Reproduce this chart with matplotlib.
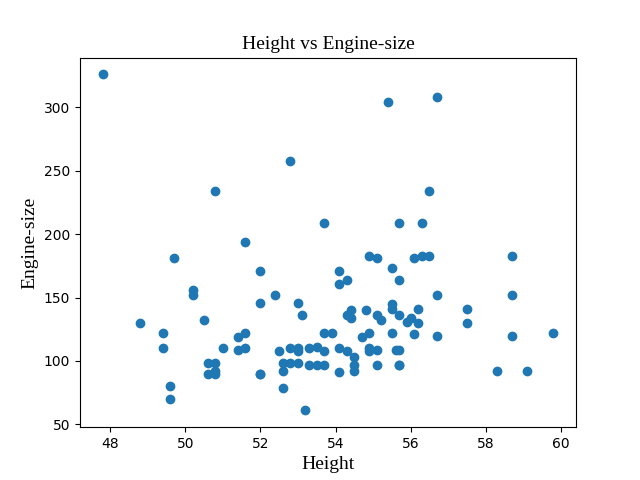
import matplotlib
matplotlib.use('Agg')
import matplotlib.pyplot as plt

# --- points (height, engine-size) --- #
height = [
    47.8, 48.8, 49.4, 49.4, 49.6, 49.6, 49.7,
    50.2, 50.2, 50.5, 50.6, 50.6, 50.8, 50.8, 50.8, 50.8,
    51.0, 51.4, 51.4, 51.6, 51.6, 51.6,
    52.0, 52.0, 52.0, 52.0, 52.4, 52.5, 52.6, 52.6, 52.6,
    52.8, 52.8, 52.8, 53.0, 53.0, 53.0, 53.0, 53.1, 53.2,
    53.3, 53.3, 53.5, 53.5, 53.7, 53.7, 53.7, 53.7, 53.9,
    54.1, 54.1, 54.1, 54.1, 54.3, 54.3, 54.3, 54.4, 54.4,
    54.5, 54.5, 54.5, 54.7, 54.8, 54.9, 54.9, 54.9, 54.9,
    55.1, 55.1, 55.1, 55.1, 55.2, 55.4, 55.5, 55.5, 55.5, 55.5,
    55.6, 55.7, 55.7, 55.7, 55.7, 55.7, 55.7,
    55.9, 56.0, 56.1, 56.1, 56.2, 56.2, 56.3, 56.3, 56.5, 56.5,
    56.7, 56.7, 56.7, 57.5, 57.5, 58.3, 58.7, 58.7, 58.7, 59.1, 59.8,
]
engine_size = [
    326, 130, 122, 110, 80, 70, 181,
    156, 152, 132, 98, 90, 98, 92, 90, 234,
    110, 119, 109, 122, 110, 194,
    171, 146, 90, 90, 152, 108, 98, 92, 79,
    258, 110, 98, 146, 110, 108, 98, 136, 61,
    110, 97, 111, 97, 209, 122, 108, 97, 122,
    171, 161, 110, 91, 164, 136, 108, 140, 134,
    103, 97, 92, 119, 140, 183, 122, 110, 108,
    181, 136, 109, 97, 132, 304, 173, 145, 141, 122,
    109, 209, 164, 136, 109, 97, 97,
    131, 134, 181, 121, 141, 130, 209, 183, 234, 183,
    308, 152, 120, 141, 130, 92, 183, 152, 120, 92, 122,
]

fig, ax = plt.subplots(figsize=(6.4, 4.8), dpi=100)
ax.scatter(height, engine_size)

serif = ['Liberation Serif', 'DejaVu Serif']
ax.set_title('Height vs Engine-size', fontsize=14, family=serif)
ax.set_xlabel('Height', fontsize=14, family=serif)
ax.set_ylabel('Engine-size', fontsize=14, family=serif)

plt.savefig('out.png')
plt.close()
